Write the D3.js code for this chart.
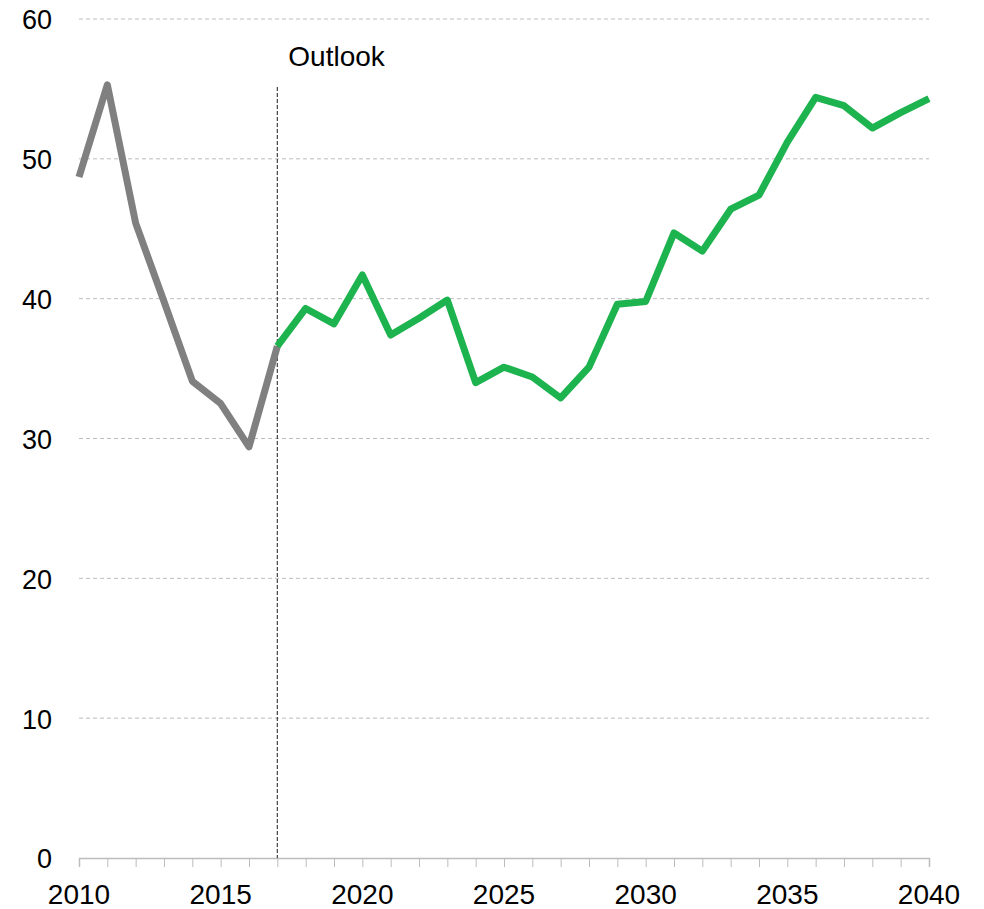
<!DOCTYPE html>
<html>
<head>
<meta charset="utf-8">
<script src="https://cdn.jsdelivr.net/npm/d3@7"></script>
<style>
  body { margin: 0; background: #fff; }
  svg text { font-family: "Liberation Sans", Arial, sans-serif; fill: #000; }
</style>
</head>
<body>
<div id="chart"></div>
<script>
// historical (grey) and outlook (green) series
const histYears = [2010, 2011, 2012, 2013, 2014, 2015, 2016, 2017];
const histValues = [48.7, 55.3, 45.4, 39.8, 34.1, 32.5, 29.4, 36.6];

const outlookYears = [2017, 2018, 2019, 2020, 2021, 2022, 2023, 2024, 2025, 2026, 2027, 2028,
    2029, 2030, 2031, 2032, 2033, 2034, 2035, 2036, 2037, 2038, 2039, 2040];
const outlookValues = [36.6, 39.3, 38.2, 41.7, 37.4, 38.6, 39.9, 34.0, 35.1, 34.4, 32.9, 35.1,
    39.6, 39.8, 44.7, 43.4, 46.4, 47.4, 51.2, 54.4, 53.8, 52.2, 53.3, 54.3];

const yTicks = [0, 10, 20, 30, 40, 50, 60];
const xLabelYears = [2010, 2015, 2020, 2025, 2030, 2035, 2040];
const outlookStart = 2017;
const outlookLabel = 'Outlook';

const width = 984, height = 909;
const margin = { left: 79, right: 55, top: 19, bottom: 51 };

const svg = d3.select('#chart').append('svg')
    .attr('width', width)
    .attr('height', height);

const x = d3.scaleLinear().domain([2010, 2040]).range([margin.left, width - margin.right]);
const y = d3.scaleLinear().domain([0, 60]).range([height - margin.bottom, margin.top]);

// gridlines
svg.append('g').selectAll('line')
    .data(yTicks.filter(d => d > 0))
    .enter().append('line')
    .attr('x1', x(2010)).attr('x2', x(2040))
    .attr('y1', d => y(d)).attr('y2', d => y(d))
    .attr('stroke', '#bdbdbd')
    .attr('stroke-width', 1)
    .attr('stroke-dasharray', '4,3');

// y labels
svg.append('g').selectAll('text')
    .data(yTicks)
    .enter().append('text')
    .attr('x', 52)
    .attr('y', d => y(d) + 1)
    .attr('dy', '0.35em')
    .attr('text-anchor', 'end')
    .style('font-size', '27px')
    .text(d => d);

// x axis with a tick every year
const xAxis = d3.axisBottom(x)
    .tickValues(d3.range(2010, 2041))
    .tickSize(9)
    .tickFormat('');
const gx = svg.append('g')
    .attr('transform', `translate(0,${y(0)})`)
    .call(xAxis);
gx.select('.domain').attr('stroke', '#bdbdbd').attr('stroke-width', 1.5);
gx.selectAll('.tick line').attr('stroke', '#bdbdbd');

svg.append('g').selectAll('text')
    .data(xLabelYears)
    .enter().append('text')
    .attr('x', d => x(d))
    .attr('y', 904)
    .attr('text-anchor', 'middle')
    .style('font-size', '28px')
    .text(d => d);

// outlook marker
svg.append('line')
    .attr('x1', x(outlookStart)).attr('x2', x(outlookStart))
    .attr('y1', 87).attr('y2', y(0))
    .attr('stroke', '#404040')
    .attr('stroke-width', 1.2)
    .attr('stroke-dasharray', '4,2');

svg.append('text')
    .attr('x', x(outlookStart) + 11)
    .attr('y', 66)
    .style('font-size', '28px')
    .text(outlookLabel);

const line = d3.line().x(d => x(d[0])).y(d => y(d[1]));

svg.append('path')
    .datum(d3.zip(histYears, histValues))
    .attr('d', line)
    .attr('fill', 'none')
    .attr('stroke', '#808080')
    .attr('stroke-width', 7)
    .attr('stroke-linejoin', 'round');

svg.append('path')
    .datum(d3.zip(outlookYears, outlookValues))
    .attr('d', line)
    .attr('fill', 'none')
    .attr('stroke', '#1db34f')
    .attr('stroke-width', 7)
    .attr('stroke-linejoin', 'round');
</script>
</body>
</html>
